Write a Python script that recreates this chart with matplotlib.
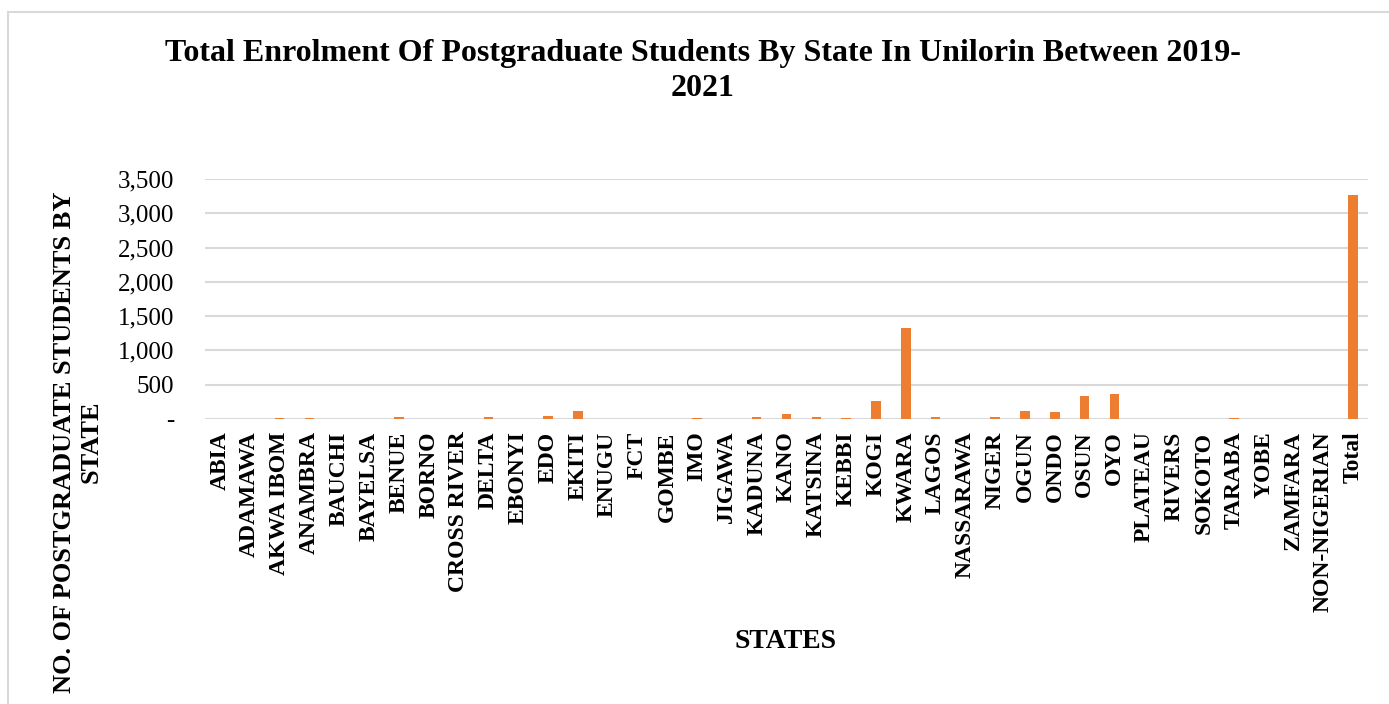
import matplotlib
matplotlib.use("Agg")
import matplotlib.pyplot as plt
from matplotlib.patches import Rectangle
from matplotlib.ticker import FuncFormatter

plt.rcParams['font.family'] = ['Liberation Serif', 'DejaVu Serif']

# data
states = ['ABIA', 'ADAMAWA', 'AKWA IBOM', 'ANAMBRA', 'BAUCHI', 'BAYELSA', 'BENUE',
          'BORNO', 'CROSS RIVER', 'DELTA', 'EBONYI', 'EDO', 'EKITI', 'ENUGU', 'FCT',
          'GOMBE', 'IMO', 'JIGAWA', 'KADUNA', 'KANO', 'KATSINA', 'KEBBI', 'KOGI',
          'KWARA', 'LAGOS', 'NASSARAWA', 'NIGER', 'OGUN', 'ONDO', 'OSUN', 'OYO',
          'PLATEAU', 'RIVERS', 'SOKOTO', 'TARABA', 'YOBE', 'ZAMFARA', 'NON-NIGERIAN',
          'Total']
enrolment = [2, 2, 18, 18, 3, 2, 34,
             2, 3, 22, 3, 38, 122, 6, 2,
             2, 16, 1, 30, 80, 24, 16, 266,
             1325, 25, 2, 25, 110, 100, 332, 366,
             2, 2, 1, 8, 2, 3, 1,
             3260]

W, H = 1389, 704
fig = plt.figure(figsize=(W / 100, H / 100), dpi=100)

# chart border (light grey frame)
fig.patches.append(Rectangle((8 / W, -0.05), 1.1, 0.05 + 1 - 12 / H,
                             transform=fig.transFigure, fill=False,
                             edgecolor='#d9d9d9', linewidth=1.5))

ax = fig.add_axes([205 / W, 1 - 419 / H, (1368 - 205) / W, (419 - 179) / H])

x = list(range(len(states)))
ax.bar(x, enrolment, width=0.32, color='#ED7D31', zorder=3)

ax.set_xlim(-0.5, len(states) - 0.5)
ax.set_ylim(0, 3500)
ax.set_yticks(range(0, 3501, 500))
ax.yaxis.set_major_formatter(FuncFormatter(lambda v, p: '-' if v == 0 else f'{int(v):,}'))
ax.set_xticks(x)
ax.set_xticklabels(states, rotation=90, fontweight='bold', fontsize=17)
ax.tick_params(axis='x', length=0, pad=9)
ax.tick_params(axis='y', length=0, pad=22, labelsize=18)

ax.grid(axis='y', color='#d9d9d9', linewidth=1.5, zorder=0)
for s in ax.spines.values():
    s.set_visible(False)

fig.text(703 / W, 1 - 71 / H,
         'Total Enrolment Of Postgraduate Students By State In Unilorin Between 2019-\n2021',
         ha='center', va='center', fontsize=23, fontweight='bold', linespacing=1.3)
fig.text(78 / W, 1 - 442 / H, 'NO. OF POSTGRADUATE STUDENTS BY\nSTATE',
         rotation=90, ha='center', va='center', fontsize=19, fontweight='bold',
         multialignment='center', linespacing=1.2)
fig.text(786 / W, 1 - 641 / H, 'STATES', ha='center', va='center',
         fontsize=20, fontweight='bold')

fig.savefig('out.png', dpi=100)
